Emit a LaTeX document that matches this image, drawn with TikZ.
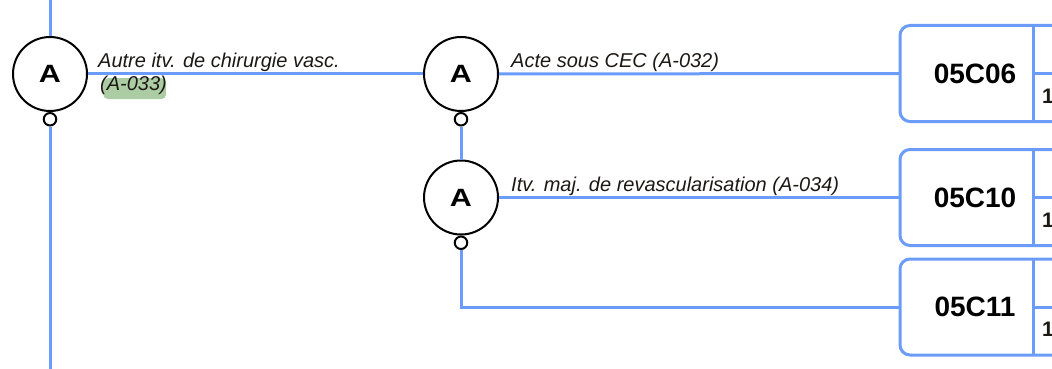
\documentclass[tikz,border=0pt]{standalone}
\usepackage{fontspec}
\setmainfont{Liberation Sans}
\definecolor{flow}{RGB}{108,156,250}
\definecolor{ink}{RGB}{28,24,20}
\definecolor{hl}{RGB}{172,204,164}
\newcommand{\actletter}{\scalebox{1.22}[1]{A}}
\tikzset{
  flowline/.style={draw=flow, line width=3pt},
  actnode/.style={circle, draw=black, line width=2pt, minimum size=74pt, inner sep=0pt,
    fill=white, font=\fontsize{25}{25}\selectfont\bfseries},
  port/.style={circle, draw=black, line width=2pt, minimum size=12.5pt, inner sep=0pt, fill=white},
  lbl/.style={anchor=base west, inner sep=0pt, text=ink, font=\fontsize{20}{23}\selectfont\itshape},
  codebox/.style={draw=flow, line width=3pt, rounded corners=10pt, minimum width=240pt,
    minimum height=96pt, anchor=west, inner sep=0pt, outer sep=0pt},
  codetext/.style={font=\fontsize{28}{28}\selectfont\bfseries, text=black, inner sep=0pt},
  celltext/.style={font=\fontsize{21}{21}\selectfont\bfseries, text=ink, anchor=base west, inner sep=0pt},
}
\begin{document}
\begin{tikzpicture}[x=1pt,y=-1pt]
  \useasboundingbox (0,0) rectangle (1052,369);
  \clip (0,0) rectangle (1052,369);

  % decision nodes and their ports
  \node[actnode] (A1) at (50,74) {\actletter};
  \node[port, anchor=north] (s1) at (A1.south) {};
  \node[actnode] (A2) at (461,74) {\actletter};
  \node[port, anchor=north] (s2) at (A2.south) {};
  \node[actnode] (A3) at (461,197.5) {\actletter};
  \node[port, anchor=north] (s3) at (A3.south) {};

  % code boxes
  \foreach \n/\y/\code in {1/73.5/05C06, 2/197.5/05C10, 3/307/05C11}{
    \node[codebox] (b\n) at (900,\y) {};
    \draw[flowline] ([xshift=133pt]b\n.north west) -- ([xshift=133pt]b\n.south west);
    \draw[flowline] ([xshift=133pt]b\n.west) -- (b\n.east);
    \node[codetext] (c\n) at ([xshift=75pt]b\n.west) {\code};
    \node[celltext] (d\n) at ([xshift=142pt,yshift=-29.5pt]b\n.west) {1};
  }

  % trunk line
  \coordinate (top) at (50,0);
  \coordinate (bot) at (50,369);
  \draw[flowline] (top) -- (A1.north);
  \draw[flowline] (s1.south) -- (bot);

  % branches
  \draw[flowline] (A1.east) -- (A2.west);
  \draw[flowline] (A2.east) -- (b1.west);
  \draw[flowline] (s2.south) -- (A3.north);
  \draw[flowline] (A3.east) -- (b2.west);
  \draw[flowline] (s3.south) |- (b3.west);

  % branch labels
  \node[fill=hl, rounded corners=5pt, minimum width=63pt, minimum height=21pt,
        anchor=north west, inner sep=0pt] (mark) at (103,78) {};
  \node[lbl] (l1) at (98,67) {Autre itv. de chirurgie vasc.};
  \node[lbl] (l1b) at (100,90) {(A-033)};
  \node[lbl] (l2) at (511,67) {Acte sous CEC (A-032)};
  \node[lbl] (l3) at (511,191) {Itv. maj. de revascularisation (A-034)};
\end{tikzpicture}
\end{document}
